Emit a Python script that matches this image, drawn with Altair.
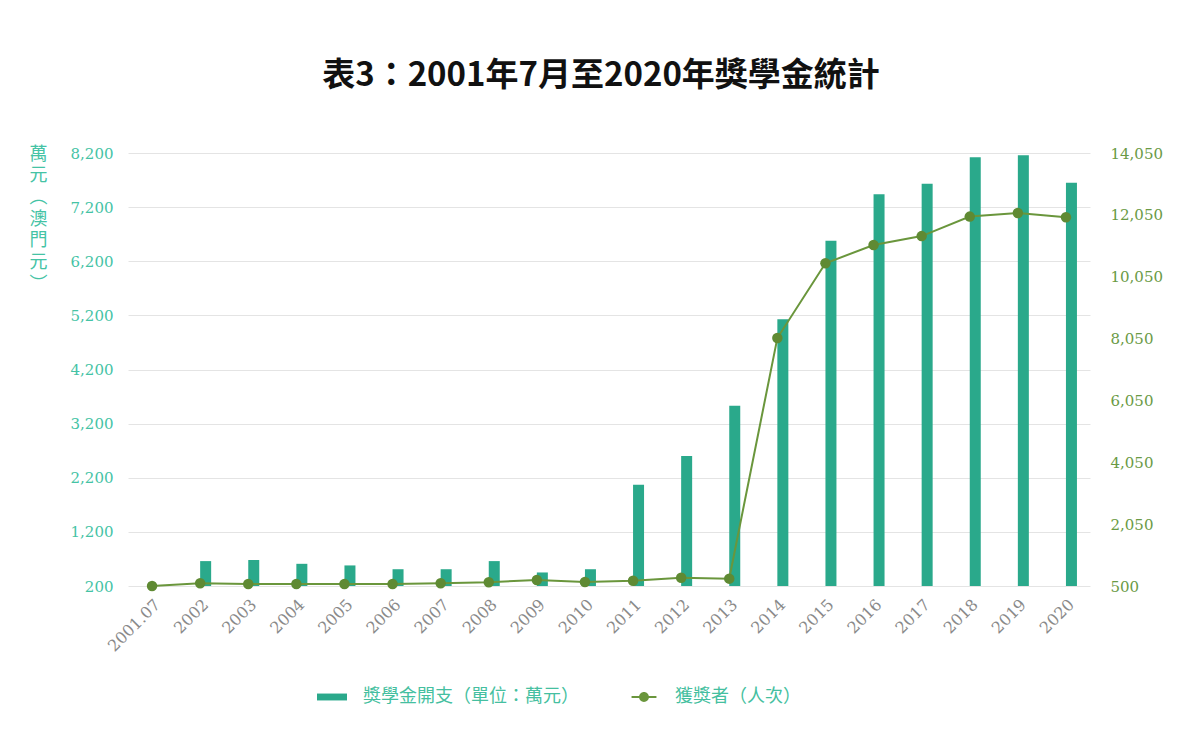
import altair as alt
import pandas as pd

years = ["2001.07", "2002", "2003", "2004", "2005", "2006", "2007", "2008", "2009", "2010",
         "2011", "2012", "2013", "2014", "2015", "2016", "2017", "2018", "2019", "2020"]
amount = [None, 660, 680, 610, 580, 510, 510, 660, 450, 510,
          2070, 2600, 3530, 5130, 6580, 7440, 7630, 8120, 8160, 7650]
winners = [500, 585, 565, 565, 565, 565, 585, 615, 690, 625,
           665, 760, 730, 8260, 10600, 11170, 11450, 12060, 12170, 12040]
left_ticks = [200, 1200, 2200, 3200, 4200, 5200, 6200, 7200, 8200]
right_labels = ["500", "2,050", "4,050", "6,050", "8,050", "10,050", "12,050", "14,050"]
series = ["獎學金開支（單位：萬元）", "獲獎者（人次）"]
colors = ["#2aa98b", "#6a963c"]

df = pd.DataFrame({"year": years, "amount": amount, "winners": winners})
legend_df = pd.DataFrame({"series": series})

r_lo, r_hi = 500, 14050
r_step = (r_hi - r_lo) / (len(right_labels) - 1)
right_tick_vals = [r_lo + k * r_step for k in range(len(right_labels))]
label_arr = "[" + ",".join("'" + s + "'" for s in right_labels) + "]"

x = alt.X("year:N", sort=years,
          scale=alt.Scale(paddingInner=0, paddingOuter=0),
          axis=alt.Axis(title=None, labelAngle=-45, labelFont="DejaVu Serif", labelFontSize=16,
                        labelColor="#8a8a8a", labelPadding=10, ticks=False, domain=False, grid=False))

bar_path = "M-1,-0.23H1V0.23H-1Z"
line_path = ("M-0.83,-0.07H0.83V0.07H-0.83Z"
             "M-0.33,0A0.33,0.33 0 1,1 0.33,0A0.33,0.33 0 1,1 -0.33,0Z")

legend = alt.Legend(
    title=None, orient="none", direction="horizontal", legendX=189, legendY=529,
    padding=0, symbolSize=900, symbolStrokeWidth=0, symbolOpacity=1, labelOffset=16,
    columnPadding=50, labelFont="Noto Sans CJK TC", labelFontSize=18, labelColor="#45bfa0",
    labelLimit=400)

bars = alt.Chart(df).mark_bar(width=11, xOffset=5.5, color=colors[0]).encode(
    x=x,
    y=alt.Y("amount:Q",
            scale=alt.Scale(domain=[200, 8200], nice=False, zero=False),
            axis=alt.Axis(orient="left", values=left_ticks, format=",d", labelFont="DejaVu Serif",
                          labelFontSize=15, labelColor="#45c3a5", labelPadding=15, ticks=False,
                          domain=False, grid=True, gridColor="#e4e4e4", gridWidth=1,
                          title=["萬", "元", "︵", "澳", "門", "元", "︶"], titleAngle=0,
                          titleX=-90, titleY=-8, titleAlign="center", titleBaseline="top",
                          titleFont="Noto Sans CJK TC", titleFontSize=18, titleFontWeight="normal",
                          titleColor="#45c3a5", titleLineHeight=21.7)),
    y2=alt.datum(200),
)

line = alt.Chart(df).mark_line(
    strokeWidth=2, color=colors[1],
    point=alt.OverlayMarkDef(filled=True, size=110, opacity=1, color="#5f8a33"),
).encode(
    x=x,
    y=alt.Y("winners:Q",
            scale=alt.Scale(domain=[r_lo, r_hi], nice=False, zero=False),
            axis=alt.Axis(orient="right", values=right_tick_vals,
                          labelExpr=f"{label_arr}[round((datum.value-{r_lo})/{r_step})]",
                          labelFont="DejaVu Serif", labelFontSize=15, labelColor="#6a9a45",
                          labelPadding=20, ticks=False, domain=False, grid=False, title=None)),
)

legend_layer = alt.Chart(legend_df).mark_point(filled=True, opacity=0).encode(
    color=alt.Color("series:N", scale=alt.Scale(domain=series, range=colors), legend=legend),
    shape=alt.Shape("series:N", scale=alt.Scale(domain=series, range=[bar_path, line_path]),
                    legend=legend),
)

chart = alt.layer(bars, line, legend_layer).resolve_scale(y="independent").properties(
    width=962, height=433,
    title=alt.TitleParams(text="表3：2001年7月至2020年獎學金統計", font="Noto Sans CJK TC",
                          fontSize=33, fontWeight="bold", color="#111111", anchor="middle",
                          offset=52, dx=-8),
    autosize=alt.AutoSizeParams(type="none"),
    padding={"left": 120, "top": 145, "right": 91, "bottom": 146},
    background="white",
).configure_view(stroke=None)

chart.save("out.html", embed_options={"renderer": "svg", "actions": False})
